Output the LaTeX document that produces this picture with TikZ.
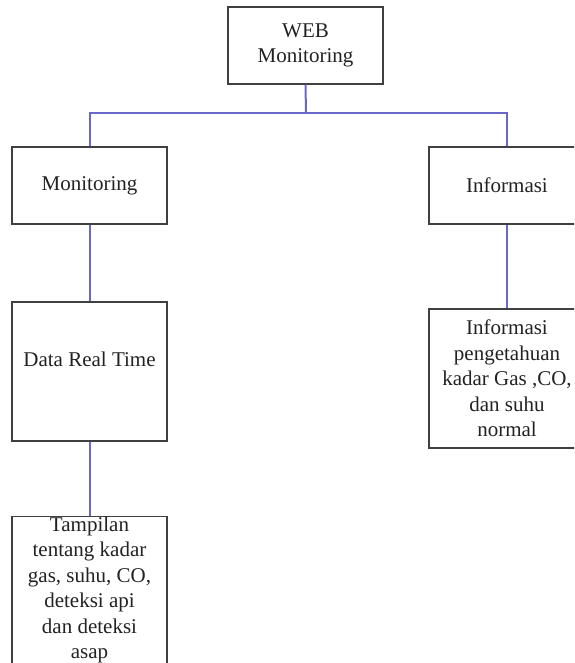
\documentclass[tikz,border=0pt]{standalone}
\usepackage{fontspec}
\setmainfont{Liberation Serif}
\usepackage{tikz}

\definecolor{garisbiru}{RGB}{104,104,200}
\definecolor{tepi}{RGB}{64,64,64}
\definecolor{tulisan}{RGB}{34,34,34}

\tikzset{
  kotak/.style={draw=tepi, line width=1.5pt, minimum width=155pt, align=center,
    text=tulisan, font=\fontsize{21}{25.5}\selectfont, inner sep=0pt},
  garis/.style={draw=garisbiru, line width=2pt}
}

\begin{document}
\begin{tikzpicture}[x=1pt, y=-1pt]
      \useasboundingbox (0, 0) rectangle (574, 663);
      \clip (0, 0) rectangle (574, 663);
      % Puncak
      \node[kotak, minimum height=77pt] (web) at (305.5, 45.5) {WEB\\Monitoring};
      % Cabang kiri
      \node[kotak, minimum height=77pt] (mon) at (89.5, 185.5) {Monitoring};
      \node[kotak, minimum height=139pt] (data) at (89.5, 371.5) {Data Real Time\\~};
      \node[kotak, minimum height=144pt] (tampil) at (89.5, 590) {Tampilan\\tentang kadar\\gas, suhu, CO,\\deteksi api\\dan deteksi\\asap};
      % Cabang kanan
      \node[kotak, minimum width=156pt, minimum height=77pt] (info) at (507, 185.5) {Informasi};
      \node[kotak, minimum width=156pt, minimum height=139pt] (info2) at (507, 378.5) {Informasi\\pengetahuan\\kadar Gas ,CO,\\dan suhu\\normal};

      % Garis penghubung
      \coordinate (cab) at (306, 113);
      \draw[garis] (web.south) -- (cab);
      \draw[garis] (cab) -| (mon.north);
      \draw[garis] (cab) -| (info.north);
      \draw[garis] (mon) -- (data);
      \draw[garis] (data) -- (tampil);
      \draw[garis] (info) -- (info2);
    \end{tikzpicture}
\end{document}
